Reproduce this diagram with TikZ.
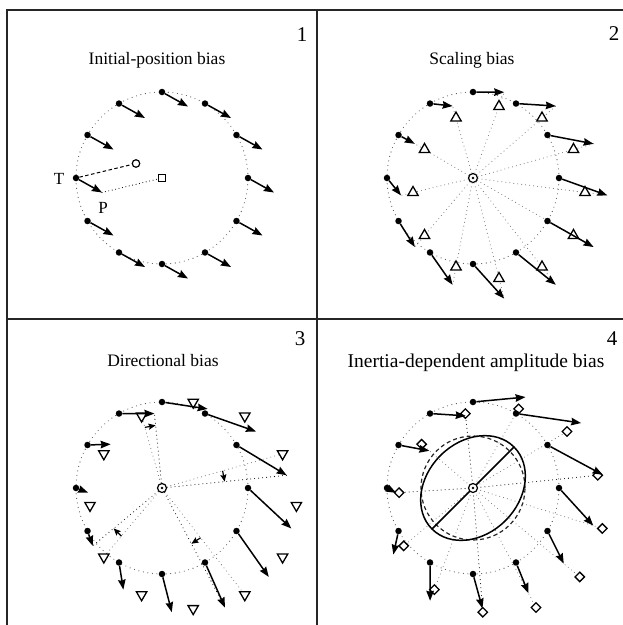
\documentclass[tikz,border=0pt]{standalone}
\usepackage{fontspec}
\setmainfont{Liberation Serif}
\usetikzlibrary{calc,arrows.meta,shapes.geometric}
\tikzset{
  frame/.style={line width=1.6pt, draw=black!85},
  dotc/.style={draw=black!70, line width=1.1pt, line cap=round, dash pattern=on 0pt off 4.6pt},
  spokeg/.style={draw=black!55, line width=1.05pt, line cap=round, dash pattern=on 0pt off 4pt},
  spokek/.style={draw=black, line width=1.05pt, line cap=round, dash pattern=on 0pt off 4pt},
  tdot/.style={circle, fill=black, inner sep=0pt, minimum size=6.5pt},
  arr/.style={line width=1.5pt, -{Stealth[length=10pt, width=7.5pt, inset=1pt]}},
  sarr/.style={line width=1.2pt, -{Stealth[length=7pt, width=6pt, inset=1pt]}},
  sqbox/.style={rectangle, draw, line width=1.2pt, fill=white, inner sep=0pt, minimum size=7.5pt},
  ocirc/.style={circle, draw, line width=1.2pt, fill=white, inner sep=0pt, minimum size=7.5pt},
  ctr/.style={circle, draw, line width=1.2pt, fill=white, inner sep=0pt, minimum size=9pt},
  cdot/.style={circle, fill=black, inner sep=0pt, minimum size=2.6pt},
  triup/.style={regular polygon, regular polygon sides=3, draw, line width=1.3pt, fill=white, inner sep=0pt, minimum size=12pt},
  tridn/.style={triup, shape border rotate=180},
  dia/.style={diamond, draw, line width=1.3pt, fill=white, inner sep=0pt, minimum size=10pt},
  dashln/.style={line width=1pt, dash pattern=on 3.5pt off 2.5pt},
  dotln/.style={line width=1.1pt, line cap=round, dash pattern=on 0pt off 3.5pt},
  ell/.style={line width=1.5pt},
  dcirc/.style={line width=1.2pt, draw=black!85, dash pattern=on 4pt off 3pt},
  ttl/.style={font=\fontsize{17.5}{20}\selectfont, anchor=base},
  ttlw/.style={font=\fontsize{19.5}{22}\selectfont, anchor=base},
  num/.style={font=\fontsize{21}{24}\selectfont, anchor=base},
  lbl/.style={font=\fontsize{17}{20}\selectfont, anchor=base},
}
\begin{document}
\begin{tikzpicture}[x=1pt,y=-1pt]
\path[use as bounding box] (0,0) rectangle (623,625);
\clip (0,0) rectangle (623,625);
% frame
\draw[frame] (7,630) -- (7,10) -- (630,10);
\draw[frame] (317,10) -- (317,630);
\draw[frame] (7,319) -- (630,319);
% titles and numbers
\node[ttl] (h1) at (157,64) {Initial-position bias};
\node[ttl] (h2) at (472,64) {Scaling bias};
\node[ttl] (h3) at (163,366) {Directional bias};
\node[ttlw] (h4) at (476,367) {Inertia-dependent amplitude bias};
\node[num] (n1) at (302,41) {1};
\node[num] (n2) at (614,40) {2};
\node[num] (n3) at (300,345) {3};
\node[num] (n4) at (612,345) {4};

% ---------------- Panel 1
\coordinate (c1) at (162,178);
\draw[dotc] (c1) circle[radius=86pt];
\foreach \a [count=\i] in {0,30,...,330}{
  \coordinate (p1c\i) at ($(c1)+({-\a}:86)$);
  \coordinate (p1e\i) at ($(p1c\i)+(26,14.5)$);
}
\node[sqbox] (s1) at (c1) {};
\node[ocirc] (o1) at ($(c1)-(26,14.5)$) {};
\foreach \i in {1,...,12}{
  \node[tdot] (p1t\i) at (p1c\i) {};
  \draw[arr] (p1t\i) -- (p1e\i);
}
\draw[dashln] (p1t7) -- (o1);
\draw[dotln] (p1e7) -- (s1);
\node[lbl] (lT) at (59,184) {T};
\node[lbl] (lP) at (103,213) {P};

% ---------------- Panel 2
\coordinate (c2p) at (473,178);
\draw[dotc] (c2p) circle[radius=86pt];
\foreach \a [count=\i] in {0,30,...,330}{
  \coordinate (p2c\i) at ($(c2p)+({-\a}:86)$);
  \coordinate (p2s\i) at ($(p2c\i)+(26,14.5)$);
  \coordinate (p2e\i) at ($(c2p)!1.2!(p2s\i)$);
}
\node[ctr] (c2) at (c2p) {};
\node[cdot] (c2d) at (c2p) {};
\foreach \i in {1,...,12}{\draw[spokeg] (c2) -- (p2e\i);}
\foreach \i in {1,...,12}{\node[triup] (p2d\i) at (p2s\i) {};}
\foreach \i in {1,...,12}{
  \node[tdot] (p2t\i) at (p2c\i) {};
  \draw[arr] (p2t\i) -- (p2e\i);
}

% ---------------- Panel 3
\coordinate (c3p) at (162,488);
\draw[dotc] (c3p) circle[radius=86pt];
\foreach \a [count=\i] in {0,30,...,330}{
  \coordinate (p3c\i) at ($(c3p)+({-\a}:86)$);
  \coordinate (p3b\i) at ($(p3c\i)+(26,14.5)$);
  \coordinate (p3s\i) at ($(c3p)!1.2!(p3b\i)$);
  \coordinate (p3e\i) at ($(c3p)!1!-10:(p3s\i)$);
}
\node[ctr] (c3) at (c3p) {};
\node[cdot] (c3d) at (c3p) {};
\foreach \i in {2,5,8,11}{
  \draw[spokeg] (c3) -- (p3s\i);
  \draw[spokek] (c3) -- (p3e\i);
  \coordinate (p3u\i) at ($(c3p)!63pt!(p3s\i)$);
  \coordinate (p3v\i) at ($(c3p)!63pt!(p3e\i)$);
  \draw[sarr] (p3u\i) -- (p3v\i);
}
\foreach \i in {1,...,12}{\node[tridn] (p3d\i) at (p3s\i) {};}
\foreach \i in {1,...,12}{
  \node[tdot] (p3t\i) at (p3c\i) {};
  \draw[arr] (p3t\i) -- (p3e\i);
}

% ---------------- Panel 4
\coordinate (c4p) at (473,488);
\draw[dotc] (c4p) circle[radius=86pt];
\foreach \a/\k [count=\i] in {0/0.93,30/1.04,60/1.15,90/1.15,120/0.97,150/0.85,180/1.04,210/1.15,240/1.11,270/0.97,300/0.88,330/0.85}{
  \coordinate (p4c\i) at ($(c4p)+({-\a}:86)$);
  \coordinate (p4b\i) at ($(p4c\i)+(26,14.5)$);
  \coordinate (p4s\i) at ($(c4p)!1.2!(p4b\i)$);
  \coordinate (p4q\i) at ($(c4p)!1!-10:(p4s\i)$);
  \coordinate (p4e\i) at ($(c4p)!\k!(p4q\i)$);
}
\foreach \i in {1,3,4,6,8,9,11,12}{\draw[spokeg] (c4p) -- (p4q\i);}
\foreach \i in {2,5,7,10}{\draw[spokek] (c4p) -- (p4q\i);}
\draw[dcirc] (c4p) circle[radius=52pt];
\begin{scope}[shift={(473,488)}, rotate=45]
  \draw[ell] (0,0) ellipse[x radius=58pt, y radius=46pt];
\end{scope}
\coordinate (m1) at ($(c4p)+(45:58pt)$);
\coordinate (m2) at ($(c4p)+(225:58pt)$);
\draw[ell] (m1) -- (m2);
\node[ctr] (c4) at (c4p) {};
\node[cdot] (c4d) at (c4p) {};
\foreach \i in {1,...,12}{\node[dia] (p4d\i) at (p4q\i) {};}
\foreach \i in {1,...,12}{
  \node[tdot] (p4t\i) at (p4c\i) {};
  \draw[arr] (p4t\i) -- (p4e\i);
}
\end{tikzpicture}
\end{document}
